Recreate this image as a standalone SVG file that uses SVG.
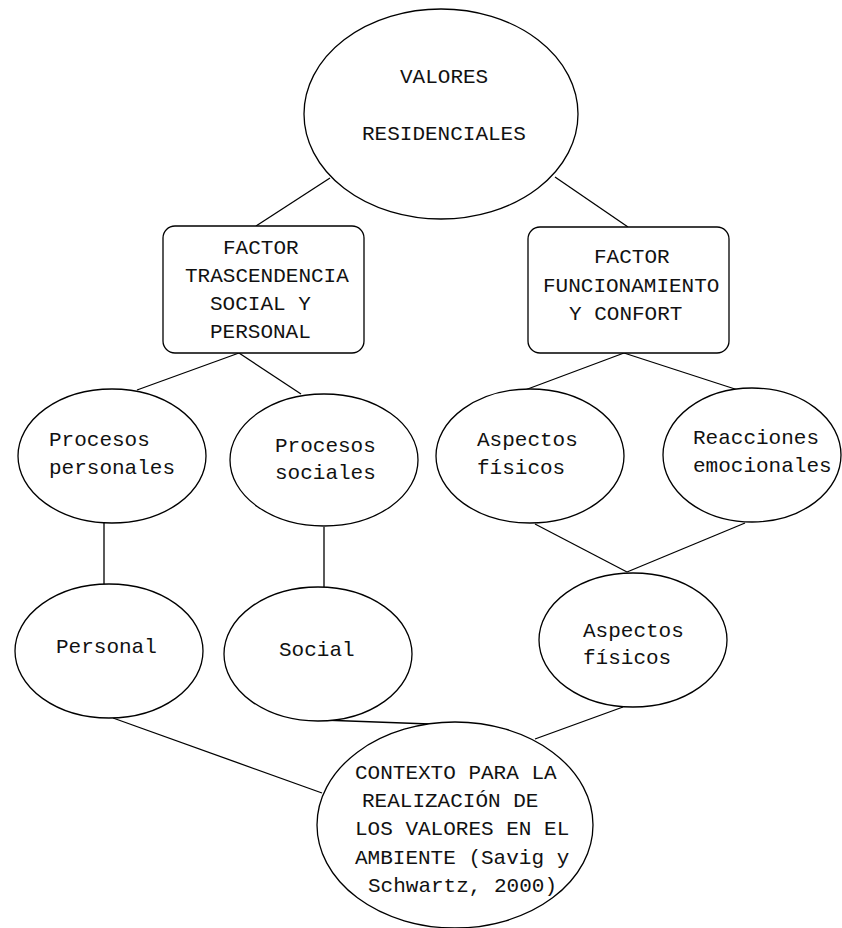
<svg xmlns="http://www.w3.org/2000/svg" width="842" height="928" viewBox="0 0 842 928">
<style>
.s{fill:#fff;stroke:#000;stroke-width:1.3}
.c line{stroke:#000;stroke-width:1.3}
text{font-family:"Liberation Mono","Courier New",monospace;font-size:21px;fill:#111}
</style>
<rect x="0" y="0" width="842" height="928" fill="#fff"/>
<g class="c" id="connectors">
<line x1="330" y1="178" x2="256" y2="226"/>
<line x1="555" y1="177" x2="628" y2="227"/>
<line x1="239" y1="353" x2="137" y2="390"/>
<line x1="239" y1="353" x2="301" y2="394"/>
<line x1="624" y1="353" x2="525" y2="390"/>
<line x1="624" y1="353" x2="738" y2="390"/>
<line x1="104" y1="523" x2="104" y2="585"/>
<line x1="324" y1="527" x2="324" y2="587"/>
<line x1="535" y1="524" x2="627" y2="572"/>
<line x1="745" y1="523" x2="627" y2="572"/>
<line x1="113" y1="718" x2="322" y2="793"/>
<line x1="322" y1="720" x2="430" y2="724"/>
<line x1="623" y1="707" x2="535" y2="739"/>
</g>
<g id="valores">
<ellipse class="s" cx="441" cy="114" rx="137" ry="105"/>
<text x="400" y="83">VALORES</text>
<text x="362" y="140">RESIDENCIALES</text>
</g>
<g id="factor1">
<rect class="s" x="163" y="226" width="201" height="127" rx="12"/>
<text x="223" y="254">FACTOR</text>
<text x="185" y="282">TRASCENDENCIA</text>
<text x="210" y="310">SOCIAL Y</text>
<text x="210" y="338">PERSONAL</text>
</g>
<g id="factor2">
<rect class="s" x="528" y="227" width="201" height="126" rx="12"/>
<text x="594" y="263">FACTOR</text>
<text x="543" y="292">FUNCIONAMIENTO</text>
<text x="569" y="320">Y CONFORT</text>
</g>
<g id="procesos-personales">
<ellipse class="s" cx="112" cy="456" rx="94" ry="67"/>
<text x="49" y="446">Procesos</text>
<text x="49" y="474">personales</text>
</g>
<g id="procesos-sociales">
<ellipse class="s" cx="324" cy="460" rx="94" ry="66"/>
<text x="275" y="452">Procesos</text>
<text x="275" y="479">sociales</text>
</g>
<g id="aspectos-fisicos-1">
<ellipse class="s" cx="530" cy="456" rx="94" ry="67"/>
<text x="477" y="446">Aspectos</text>
<text x="477" y="474">físicos</text>
</g>
<g id="reacciones">
<ellipse class="s" cx="752" cy="455" rx="89" ry="67"/>
<text x="693" y="444">Reacciones</text>
<text x="693" y="472">emocionales</text>
</g>
<g id="personal">
<ellipse class="s" cx="109" cy="651" rx="94" ry="67"/>
<text x="56" y="653">Personal</text>
</g>
<g id="social">
<ellipse class="s" cx="318" cy="654" rx="94" ry="67"/>
<text x="279" y="656">Social</text>
</g>
<g id="aspectos-fisicos-2">
<ellipse class="s" cx="633" cy="640" rx="94" ry="67"/>
<text x="583" y="637">Aspectos</text>
<text x="583" y="664">físicos</text>
</g>
<g id="contexto">
<ellipse class="s" cx="455" cy="825" rx="138" ry="103"/>
<text x="355" y="779">CONTEXTO PARA LA</text>
<text x="362" y="807">REALIZACIÓN DE</text>
<text x="355" y="835">LOS VALORES EN EL</text>
<text x="355" y="864">AMBIENTE (Savig y</text>
<text x="368" y="892">Schwartz, 2000)</text>
</g>
</svg>
